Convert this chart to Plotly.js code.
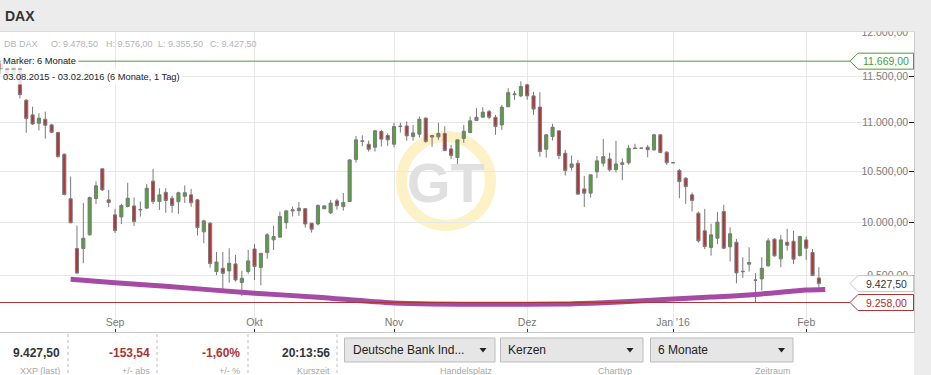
<!DOCTYPE html>
<html>
<head>
<meta charset="utf-8">
<script src="https://cdn.plot.ly/plotly-3.0.1.min.js"></script>
<style>
html,body{margin:0;padding:0;background:#ececec;}
#chart{width:931px;height:375px;}
</style>
</head>
<body>
<div id="chart"></div>
<script>
// ---------- DATA ----------
const dates = [
 '2015-08-03','2015-08-04','2015-08-05','2015-08-06','2015-08-07','2015-08-10','2015-08-11','2015-08-12','2015-08-13','2015-08-14','2015-08-17','2015-08-18','2015-08-19','2015-08-20','2015-08-21','2015-08-24','2015-08-25','2015-08-26','2015-08-27','2015-08-28','2015-08-31',
 '2015-09-01','2015-09-02','2015-09-03','2015-09-04','2015-09-07','2015-09-08','2015-09-09','2015-09-10','2015-09-11','2015-09-14','2015-09-15','2015-09-16','2015-09-17','2015-09-18','2015-09-21','2015-09-22','2015-09-23','2015-09-24','2015-09-25','2015-09-28','2015-09-29','2015-09-30',
 '2015-10-01','2015-10-02','2015-10-05','2015-10-06','2015-10-07','2015-10-08','2015-10-09','2015-10-12','2015-10-13','2015-10-14','2015-10-15','2015-10-16','2015-10-19','2015-10-20','2015-10-21','2015-10-22','2015-10-23','2015-10-26','2015-10-27','2015-10-28','2015-10-29','2015-10-30',
 '2015-11-02','2015-11-03','2015-11-04','2015-11-05','2015-11-06','2015-11-09','2015-11-10','2015-11-11','2015-11-12','2015-11-13','2015-11-16','2015-11-17','2015-11-18','2015-11-19','2015-11-20','2015-11-23','2015-11-24','2015-11-25','2015-11-26','2015-11-27','2015-11-30',
 '2015-12-01','2015-12-02','2015-12-03','2015-12-04','2015-12-07','2015-12-08','2015-12-09','2015-12-10','2015-12-11','2015-12-14','2015-12-15','2015-12-16','2015-12-17','2015-12-18','2015-12-21','2015-12-22','2015-12-23','2015-12-24','2015-12-25','2015-12-28','2015-12-29','2015-12-30','2015-12-31',
 '2016-01-01','2016-01-04','2016-01-05','2016-01-06','2016-01-07','2016-01-08','2016-01-11','2016-01-12','2016-01-13','2016-01-14','2016-01-15','2016-01-18','2016-01-19','2016-01-20','2016-01-21','2016-01-22','2016-01-25','2016-01-26','2016-01-27','2016-01-28','2016-01-29',
 '2016-02-01','2016-02-02','2016-02-03'
];
const openValues = [
 11300,11440,11480,11640,11585,11490,11590,11240,11083,10995,11037,10977,10897,10673,10226,9750,9750,9879,10229,10524,10216,
 10070,10050,10152,10157,10118,10135,10401,10200,10290,10232,10197,10251,10265,10216,9907,9990,9537,9567,9543,9607,9437,9537,
 9746,9574,9712,9832,9857,9994,10108,10110,10130,9990,9982,10128,10090,10206,10150,10200,10620,10805,10776,10745,10908,10866,
 10776,10965,10966,10856,10880,11048,10850,10852,10887,10727,10639,10835,10897,11023,11058,11118,11058,10977,11169,11300,11287,
 11407,11287,11166,10724,10856,10915,10683,10540,10581,10324,10282,10494,10582,10625,10517,10570,10585,10730,10735,10745,10717,10873,10694,
 10586,10507,10430,10265,10086,9917,9760,9847,10102,9766,9809,9540,9605,9461,9470,9590,9838,9654,9809,9819,9685,
 9831,9712,9478.5
];
const highValues = [
 11460,11500,11640,11669,11600,11620,11620,11252,11170,11101,11118,10990,10907,10680,10447,9967,10184,10248,10397,10530,10314,
 10128,10177,10384,10239,10200,10373,10524,10330,10330,10257,10296,10358,10324,10226,10022,10000,9719,9719,9753,9691,9543,9737,
 9793,9706,9895,9965,10102,10118,10150,10195,10135,9992,10174,10164,10216,10228,10284,10620,10862,10868,10814,10925,10925,10887,
 11000,11000,11014,10977,11065,11058,10873,11000,10963,10769,10821,10977,11065,11155,11166,11137,11083,11190,11371,11342,11445,
 11418,11331,11327,10883,10988,10918,10717,10659,10615,10454,10464,10655,10831,10689,10812,10630,10769,10780,10735,10769,10883,10883,10704,
 10586,10524,10440,10288,10102,10128,9984,10099,10167,9950,9840,9669,9762,9522,9669,9847,9847,9879,9936,9917,9870,
 9863,9746,9576
];
const lowValues = [
 11270,11390,11470,11530,11440,11460,11260,10895,10977,10918,10835,10890,10640,10260,9990,9520,9613,9872,10174,10305,10144,
 9896,9981,10143,9964,10054,10128,10175,10118,10090,10089,10080,10185,10148,9872,9800,9573,9504,9377,9436,9446,9317,9516,
 9461,9413,9654,9737,9857,9935,10054,10060,9948,9900,9968,10128,10077,10120,10111,10195,10588,10755,10700,10700,10752,10759,
 10745,10897,10812,10812,10845,10790,10748,10821,10710,10622,10535,10790,10890,11020,11058,11037,10873,10925,11169,11244,11273,
 11244,11083,10648,10637,10814,10622,10457,10507,10272,10145,10239,10431,10548,10497,10487,10410,10565,10727,10735,10642,10710,10683,10565,
 10586,10232,10177,10102,9806,9744,9684,9791,9744,9629,9430,9480,9537,9258,9365,9582,9675,9576,9731,9605,9675,
 9644,9500,9355.5
];
const closeValues = [
 11444,11456,11636,11585,11490,11600,11300,11044,10987,11048,10973,10900,10648,10268,9994,9523,9847,10238,10354,10314,10190,
 9919,10160,10232,10006,10122,10330,10200,10265,10209,10160,10286,10286,10188,9948,10012,9610,9625,9521,9613,9461,9476,9635,
 9583,9706,9879,9863,10054,10108,10118,10135,9982,9932,10160,10157,10184,10159,10190,10615,10821,10810,10724,10915,10828,10821,
 10960,10960,10863,10893,11037,10805,10866,10887,10710,10659,10821,10910,11020,11058,11112,11058,10960,11166,11322,11308,11389,
 11287,11145,10700,10873,10953,10659,10507,10574,10272,10282,10464,10605,10648,10514,10574,10585,10734,10735,10735,10720,10873,10690,10586,
 10586,10396,10346,10210,9822,9769,9879,10000,9753,9889,9525,9536,9620,9458,9567,9822,9682,9831,9781,9651,9863,
 9753,9500,9427.5
];
// rounding-bottom trend curve (purple)
const curveDates  = ['2015-08-21','2015-09-01','2015-09-11','2015-10-01','2015-10-15','2015-11-02','2015-11-25','2015-12-08','2015-12-17','2015-12-28','2016-01-01','2016-01-11','2016-01-19','2016-01-28','2016-02-01','2016-02-04'];
const curveValues = [9467,9436,9403,9341,9306,9254,9242,9245,9257,9276,9290,9307,9326,9360,9369,9375];

const yTickValues = [9000,9500,10000,10500,11000,11500,12000];
const monthTickDates  = ['2015-09-01','2015-10-01','2015-11-02','2015-12-01','2016-01-01','2016-02-01'];
const monthTickLabels = ['Sep','Okt','Nov','Dez',"Jan '16",'Feb'];

const periodHigh = 11669;
const periodLow  = 9258;
const lastPrice  = 9427.5;
const changeAbs  = '-153,54';
const changePct  = '-1,60%';
const quoteTime  = '20:13:56';

// ---------- helpers ----------
function de(v){
  const s = v.toFixed(2).split('.');
  return s[0].replace(/\B(?=(\d{3})+(?!\d))/g,'.') + ',' + s[1];
}
const W = 914, H = 300, TOP = 32;
const px = x => x / W;
const py = y => (TOP + H - y) / H;
const LMIN = Math.log10(9000), LMAX = Math.log10(12000);
const yFrac = v => (Math.log10(v) - LMIN) / (LMAX - LMIN);

const FONT = 'Liberation Sans, Arial, sans-serif';
const GREEN = '#4e9a36', RED = '#a83434';

const traces = [
  {
    type: 'candlestick', x: dates,
    open: openValues, high: highValues, low: lowValues, close: closeValues,
    increasing: {line: {color: '#7a7a7a', width: 1}, fillcolor: '#51a33a'},
    decreasing: {line: {color: '#7a7a7a', width: 1}, fillcolor: '#b3363a'},
    whiskerwidth: 0, hoverinfo: 'skip', showlegend: false
  },
  {
    type: 'scatter', mode: 'lines', x: curveDates, y: curveValues,
    line: {color: '#a54ba5', width: 5, shape: 'spline', smoothing: 0.8},
    hoverinfo: 'skip', showlegend: false
  }
];

function tagPath(v){
  const yc = yFrac(v), h = 8/H;
  const tip = px(850), body = px(858), r = px(913.5);
  return `M${tip},${yc} L${body},${yc+h} L${r},${yc+h} L${r},${yc-h} L${body},${yc-h} Z`;
}
function tri(x, y){
  return `M${px(x-3.5)},${py(y-2)} L${px(x+3.5)},${py(y-2)} L${px(x)},${py(y+2.5)} Z`;
}
function rect(x0, y0, x1, y1, fill, line, layer){
  return {type:'rect', xref:'paper', yref:'paper', x0:px(x0), x1:px(x1), y0:py(y1), y1:py(y0),
          fillcolor: fill, line: line || {width:0}, layer: layer || 'above'};
}
function vdash(x){
  return {type:'line', xref:'paper', yref:'paper', x0:px(x), x1:px(x), y0:py(334), y1:py(376),
          line:{color:'#bdbdbd', width:1, dash:'3px,3px'}, layer:'above'};
}

const shapes = [
  // watermark ring
  {type:'circle', xref:'paper', yref:'paper', xsizemode:'pixel', ysizemode:'pixel',
   xanchor: px(446), yanchor: py(181), x0:-44.5, x1:44.5, y0:-44.5, y1:44.5,
   line:{color:'#fdf1c6', width:11}, layer:'below'},
  // period high / low marker lines
  {type:'line', xref:'paper', yref:'paper', x0:0, x1:px(850), y0:yFrac(periodHigh), y1:yFrac(periodHigh),
   line:{color:GREEN, width:1}, layer:'above'},
  {type:'line', xref:'paper', yref:'paper', x0:0, x1:px(850), y0:yFrac(periodLow), y1:yFrac(periodLow),
   line:{color:RED, width:1}, layer:'above'},
  // header (covers overflow of top tick label)
  rect(-1, -2, 932, 31.5, '#ececec'),
  // bottom panel
  rect(0, 333, 914, 377, '#ffffff'),
  // price tags
  {type:'path', xref:'paper', yref:'paper', path: tagPath(periodHigh), fillcolor:'#ffffff', line:{color:GREEN, width:1}, layer:'above'},
  {type:'path', xref:'paper', yref:'paper', path: tagPath(lastPrice), fillcolor:'#ffffff', line:{color:'#c6c6c6', width:1}, layer:'above'},
  {type:'path', xref:'paper', yref:'paper', path: tagPath(periodLow), fillcolor:'#ffffff', line:{color:RED, width:1}, layer:'above'},
  // separators
  vdash(68), vdash(157), vdash(248), vdash(337),
  // dropdown buttons
  rect(344.5, 338, 495, 362, '#e6e6e6', {color:'#bcbcbc', width:1}),
  rect(500.5, 338, 643, 362, '#e6e6e6', {color:'#bcbcbc', width:1}),
  rect(650.5, 338, 793, 362, '#e6e6e6', {color:'#bcbcbc', width:1}),
  {type:'path', xref:'paper', yref:'paper', path: tri(483, 350), fillcolor:'#222', line:{width:0}, layer:'above'},
  {type:'path', xref:'paper', yref:'paper', path: tri(630, 350), fillcolor:'#222', line:{width:0}, layer:'above'},
  {type:'path', xref:'paper', yref:'paper', path: tri(781.5, 350), fillcolor:'#222', line:{width:0}, layer:'above'}
];

function ann(text, x, y, opts){
  return Object.assign({text: text, xref:'paper', yref:'paper', x: px(x), y: py(y),
    showarrow:false, xanchor:'left', yanchor:'middle',
    font:{family:FONT, size:9.3, color:'#222'}}, opts || {});
}
const n = dates.length - 1;
const hdrColor = '#b3b3b3';
const annotations = [
  ann('DAX', 3, 16, {font:{family:FONT, size:14, color:'#333', weight:'bold'}}),
  ann('DB DAX', 2, 44, {font:{family:FONT, size:9, color:hdrColor}}),
  ann('O: ' + de(openValues[n]), 49, 44, {font:{family:FONT, size:9, color:hdrColor}}),
  ann('H: ' + de(highValues[n]), 104, 44, {font:{family:FONT, size:9, color:hdrColor}}),
  ann('L: ' + de(lowValues[n]), 155.5, 44, {font:{family:FONT, size:9, color:hdrColor}}),
  ann('C: ' + de(closeValues[n]), 207.5, 44, {font:{family:FONT, size:9, color:hdrColor}}),
  ann('Marker: 6 Monate', 0, 61, {bgcolor:'rgba(255,255,255,0.85)', borderpad:2}),
  ann('03.08.2015 - 03.02.2016 (6 Monate, 1 Tag)', 0, 77.5, {bgcolor:'rgba(255,255,255,0.85)', borderpad:2}),
  // watermark letters
  ann('GT', 446, 182, {xanchor:'center', font:{family:'Liberation Sans Narrow, Arial Narrow, Liberation Sans, Arial', size:56, color:'#e0e0e0', weight:'bold'}}),
  // price tag texts
  ann(de(periodHigh), 886, 0, {y: yFrac(periodHigh), xanchor:'center', font:{family:FONT, size:10.5, color:GREEN}}),
  ann(de(lastPrice), 886, 0, {y: yFrac(lastPrice), xanchor:'center', font:{family:FONT, size:10.5, color:'#333'}}),
  ann(de(periodLow), 886, 0, {y: yFrac(periodLow), xanchor:'center', font:{family:FONT, size:10.5, color:'#b02c2c'}}),
  // bottom panel
  ann(de(lastPrice), 62, 353, {xanchor:'right', font:{family:FONT, size:12, color:'#333', weight:'bold'}}),
  ann('XXP (last)', 62, 371, {xanchor:'right', font:{family:FONT, size:9, color:'#a8a8a8'}}),
  ann(changeAbs, 152, 353, {xanchor:'right', font:{family:FONT, size:12, color:'#a83434', weight:'bold'}}),
  ann('+/- abs', 152, 371, {xanchor:'right', font:{family:FONT, size:9, color:'#a8a8a8'}}),
  ann(changePct, 242, 353, {xanchor:'right', font:{family:FONT, size:12, color:'#a83434', weight:'bold'}}),
  ann('+/- %', 242, 371, {xanchor:'right', font:{family:FONT, size:9, color:'#a8a8a8'}}),
  ann(quoteTime, 332, 353, {xanchor:'right', font:{family:FONT, size:12, color:'#333', weight:'bold'}}),
  ann('Kurszeit', 332, 371, {xanchor:'right', font:{family:FONT, size:9, color:'#a8a8a8'}}),
  ann('Deutsche Bank Ind...', 351, 350, {font:{family:FONT, size:12, color:'#222'}}),
  ann('Handelsplatz', 495, 371, {xanchor:'right', font:{family:FONT, size:9, color:'#a8a8a8'}}),
  ann('Kerzen', 506, 350, {font:{family:FONT, size:12, color:'#222'}}),
  ann('Charttyp', 634, 371, {xanchor:'right', font:{family:FONT, size:9, color:'#a8a8a8'}}),
  ann('6 Monate', 656, 350, {font:{family:FONT, size:12, color:'#222'}}),
  ann('Zeitraum', 793, 371, {xanchor:'right', font:{family:FONT, size:9, color:'#a8a8a8'}})
];

const layout = {
  width: 931, height: 375,
  margin: {l:0, r:17, t:32, b:43, pad:0},
  paper_bgcolor: '#ececec', plot_bgcolor: '#ffffff',
  showlegend: false, hovermode: false, dragmode: false,
  boxgap: 0.3,
  font: {family: FONT, size: 10.5, color: '#777'},
  xaxis: {
    type: 'category', range: [2.86, 147.0],
    rangeslider: {visible: false},
    tickmode: 'array', tickvals: monthTickDates, ticktext: monthTickLabels,
    ticks: 'inside', ticklen: 3, tickcolor: '#333', tickwidth: 1,
    ticklabelposition: 'inside',
    tickfont: {family: FONT, size: 10.5, color: '#777'},
    showgrid: true, gridcolor: '#e8e8e8', gridwidth: 1,
    showline: true, linecolor: '#cacaca', linewidth: 1, mirror: true,
    zeroline: false, fixedrange: true
  },
  yaxis: {
    type: 'log', side: 'right',
    range: [LMIN, LMAX],
    tickmode: 'array', tickvals: yTickValues, ticktext: yTickValues.map(de),
    ticks: 'inside', ticklen: 5, tickcolor: '#222', tickwidth: 1,
    ticklabelposition: 'inside', ticklabeloverflow: 'allow',
    tickfont: {family: FONT, size: 10.5, color: '#7d7d7d'},
    showgrid: true, gridcolor: '#e8e8e8', gridwidth: 1,
    showline: true, linecolor: '#cacaca', linewidth: 1,
    zeroline: false, fixedrange: true
  },
  shapes: shapes,
  annotations: annotations
};

Plotly.newPlot('chart', traces, layout, {staticPlot: true, displayModeBar: false});
</script>
</body>
</html>
